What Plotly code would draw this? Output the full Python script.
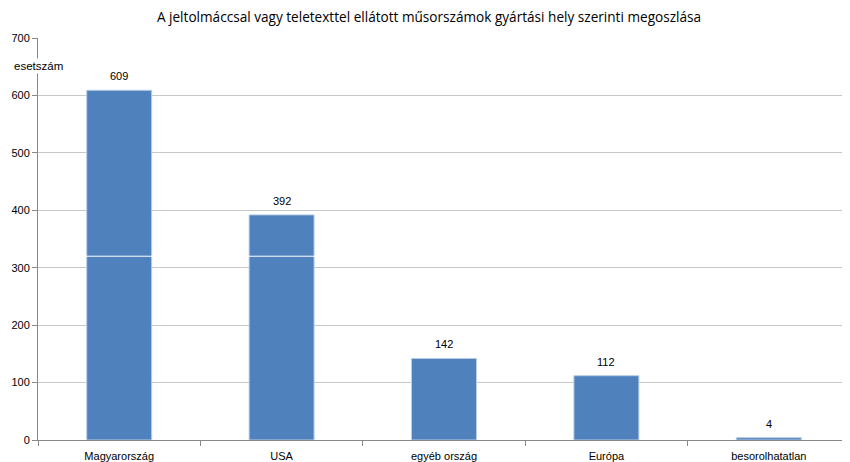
import plotly.graph_objects as go

categories = ['Magyarország', 'USA', 'egyéb ország', 'Európa', 'besorolhatatlan']
values = [609, 392, 142, 112, 4]
y_ticks = [0, 100, 200, 300, 400, 500, 600, 700]

FONT = 'Liberation Sans'

fig = go.Figure()

fig.add_trace(go.Bar(
    x=categories,
    y=values,
    marker=dict(color='#4F81BD', line=dict(color='#B9CDE5', width=1)),
    width=0.4,
))

# value labels above the bars
labels = [dict(text=str(v), x=c, y=v, xref='x', yref='y', showarrow=False,
               yanchor='bottom', yshift=6, font=dict(family=FONT, size=11))
          for c, v in zip(categories, values)]

fig.update_layout(
    # page body has an 8px margin, so the figure is shrunk to fit the window
    width=842, height=454,
    margin=dict(l=30, r=0, t=30, b=22),
    paper_bgcolor='white',
    plot_bgcolor='white',
    showlegend=False,
    font=dict(family=FONT, size=11, color='#000000'),
    title=dict(
        text='A jeltolmáccsal vagy teletexttel ellátott műsorszámok gyártási hely szerinti megoszlása',
        x=0.5, xanchor='center', y=0.979, yanchor='middle',
        font=dict(family='Open Sans', size=13.6, color='#000000'),
    ),
    xaxis=dict(
        showline=True, linecolor='#888888', linewidth=1,
        ticks='outside', tickson='boundaries', ticklen=5, tickcolor='#888888',
        ticklabelstandoff=6,
        showgrid=False,
        tickfont=dict(family=FONT, size=11),
    ),
    yaxis=dict(
        range=[0, 700], tickvals=y_ticks,
        showline=True, linecolor='#888888', linewidth=1,
        ticks='outside', ticklen=5, tickcolor='#888888',
        showgrid=True, gridcolor='#C8C8C8', gridwidth=1,
        zeroline=False,
        tickfont=dict(family=FONT, size=11),
    ),
    shapes=[dict(type='line', xref='paper', yref='y', x0=0, x1=1, y0=320, y1=320,
                 line=dict(color='white', width=1), layer='above')],
    annotations=labels + [dict(
        text='esetszám', xref='paper', yref='y', x=0, y=652,
        xanchor='center', yanchor='middle', showarrow=False,
        bgcolor='white', font=dict(family=FONT, size=11.5),
    )],
)

fig.write_html('out.html')
